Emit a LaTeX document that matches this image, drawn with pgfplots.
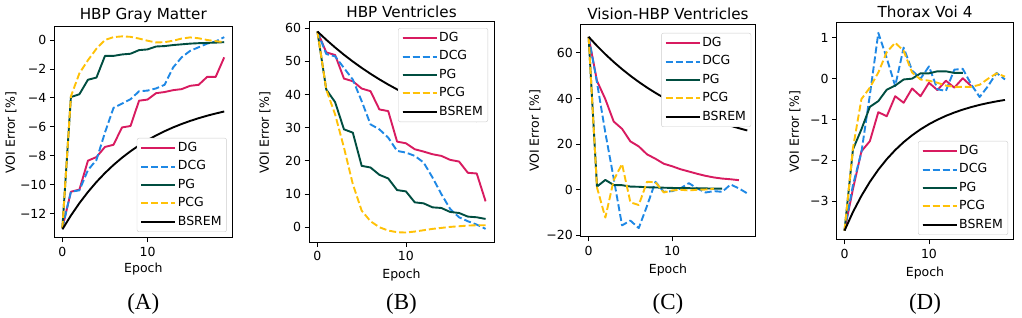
\documentclass[border=0pt]{standalone}
\usepackage{fontspec}
\setmainfont{DejaVu Sans}
\newfontfamily\serifletter{Liberation Serif}
\usepackage{pgfplots}
\pgfplotsset{compat=1.18}
\definecolor{cDG}{HTML}{D81B60}
\definecolor{cDCG}{HTML}{1E88E5}
\definecolor{cPG}{HTML}{004D40}
\definecolor{cPCG}{HTML}{FFC107}
\newcommand{\tickfont}{\fontsize{12.5bp}{14bp}\selectfont}
\newcommand{\titlefont}{\fontsize{15.2bp}{17bp}\selectfont}
\pgfplotsset{
  myax/.style={
    scale only axis,
    xmin=-0.95, xmax=19.95,
    xtick={0,10}, xticklabels={0,10},
    tick align=outside, xtick pos=bottom, ytick pos=left,
    major tick length=4.4bp,
    every tick/.style={black, line width=0.8bp},
    axis line style={line width=1bp},
    tick label style={font=\tickfont},
    xticklabel style={yshift=-1bp},
    legend cell align=left,
    legend style={font=\tickfont, draw=black!20, rounded corners=2bp, fill=white,
      inner xsep=3.5bp, inner ysep=2.5bp, row sep=3.4bp,
      nodes={inner sep=1.5bp, text height=9.3bp, text depth=2.7bp}},
    legend image code/.code={\draw[##1] (0bp,0bp) -- (27bp,0bp); \path (0bp,0bp) -- (34bp,0bp);},
    every axis plot/.append style={line width=1.9bp, mark=none, line join=round},
  },
  sDG/.style={color=cDG, solid},
  sDCG/.style={color=cDCG, dash pattern=on 7bp off 3bp},
  sPG/.style={color=cPG, solid},
  sPCG/.style={color=cPCG, dash pattern=on 7bp off 3bp},
  sBS/.style={color=black, solid},
}
\begin{document}
\begin{tikzpicture}
\path[use as bounding box] (0,0) rectangle (1022bp,318bp);
% ---------------- A
\begin{axis}[myax, at={(54.3bp,80bp)}, width=178bp, height=211bp,
  ymin=-13.7, ymax=0.9,
  ytick={-12,-10,-8,-6,-4,-2,0}, yticklabels={−12,−10,−8,−6,−4,−2,0},
  legend style={at={(rel axis cs:1,0)}, anchor=south east, xshift=-5.5bp, yshift=6bp}]
\addplot[sDG] coordinates {(0,-13.0)(1,-10.5)(2,-10.35)(3,-8.35)(4,-8.1)(5,-7.4)(6,-7.25)(7,-6.05)(8,-5.95)(9,-4.2)(10,-4.12)(11,-3.68)(12,-3.6)(13,-3.47)(14,-3.4)(15,-3.17)(16,-3.1)(17,-2.55)(18,-2.55)(19,-1.2)};
\addplot[sDCG] coordinates {(0,-13.0)(1,-10.5)(2,-10.4)(3,-9.0)(4,-8.3)(5,-6.4)(6,-4.7)(7,-4.4)(8,-4.1)(9,-3.55)(10,-3.5)(11,-3.35)(12,-3.1)(13,-1.9)(14,-1.2)(15,-0.75)(16,-0.5)(17,-0.25)(18,-0.1)(19,0.2)};
\addplot[sPG] coordinates {(0,-13.0)(1,-3.95)(2,-3.75)(3,-2.75)(4,-2.6)(5,-1.1)(6,-1.1)(7,-1.0)(8,-0.95)(9,-0.7)(10,-0.65)(11,-0.45)(12,-0.42)(13,-0.35)(14,-0.3)(15,-0.25)(16,-0.22)(17,-0.2)(18,-0.18)(19,-0.15)};
\addplot[sPCG] coordinates {(0,-13.0)(1,-3.9)(2,-2.3)(3,-1.4)(4,-0.6)(5,0.0)(6,0.2)(7,0.25)(8,0.22)(9,0.1)(10,-0.05)(11,-0.17)(12,-0.15)(13,-0.05)(14,0.1)(15,0.18)(16,0.12)(17,0.0)(18,-0.08)(19,-0.15)};
\addplot[sBS] coordinates {(0,-13.1)(1,-12.145)(2,-11.287)(3,-10.517)(4,-9.825)(5,-9.205)(6,-8.647)(7,-8.146)(8,-7.696)(9,-7.292)(10,-6.929)(11,-6.603)(12,-6.311)(13,-6.047)(14,-5.812)(15,-5.6)(16,-5.41)(17,-5.238)(18,-5.085)(19,-4.947)};
\legend{DG,DCG,PG,PCG,BSREM}
\end{axis}
% ---------------- B
\begin{axis}[myax, at={(309bp,75.5bp)}, width=185bp, height=221bp,
  ymin=-4.6, ymax=62,
  ytick={0,10,20,30,40,50,60}, yticklabels={0,10,20,30,40,50,60},
  legend style={at={(rel axis cs:1,1)}, anchor=north east, xshift=-6bp, yshift=-6.5bp}]
\addplot[sDG] coordinates {(0,59)(1,52.7)(2,51.9)(3,44.8)(4,44)(5,41.8)(6,41)(7,35.5)(8,35)(9,25.8)(10,25.3)(11,23.5)(12,22.8)(13,22)(14,21.5)(15,20.3)(16,19.8)(17,16.4)(18,16.2)(19,7.8)};
\addplot[sDCG] coordinates {(0,59)(1,52.2)(2,51.5)(3,48)(4,44.5)(5,38)(6,31)(7,29.5)(8,27)(9,23)(10,22.5)(11,21.5)(12,19.5)(13,15)(14,10)(15,5.5)(16,3)(17,1.8)(18,0.8)(19,-0.5)};
\addplot[sPG] coordinates {(0,59)(1,41.5)(2,37.7)(3,29.5)(4,28.5)(5,18.5)(6,18)(7,15.8)(8,14.7)(9,11.2)(10,10.8)(11,7.5)(12,7.2)(13,6)(14,5.8)(15,4.6)(16,4.3)(17,3.2)(18,3)(19,2.5)};
\addplot[sPCG] coordinates {(0,59)(1,41.5)(2,34)(3,24)(4,13)(5,5)(6,1.8)(7,0)(8,-1)(9,-1.5)(10,-1.6)(11,-1.3)(12,-0.9)(13,-0.5)(14,-0.2)(15,0.1)(16,0.3)(17,0.5)(18,0.6)(19,0.6)};
\addplot[sBS] coordinates {(0,59)(1,56.5)(2,54.17)(3,51.98)(4,49.94)(5,48.03)(6,46.24)(7,44.57)(8,43)(9,41.54)(10,40.17)(11,38.89)(12,37.69)(13,36.57)(14,35.52)(15,34.54)(16,33.62)(17,32.76)(18,31.96)};
\legend{DG,DCG,PG,PCG,BSREM}
\end{axis}
% ---------------- C
\begin{axis}[myax, at={(580.7bp,81bp)}, width=174.5bp, height=212bp,
  ymin=-20.7, ymax=72.2,
  ytick={-20,0,20,40,60}, yticklabels={−20,0,20,40,60},
  legend style={at={(rel axis cs:1,1)}, anchor=north east, xshift=-4bp, yshift=-8bp}]
\addplot[sDG] coordinates {(0,67)(1,47.7)(2,39.7)(3,29.9)(4,26.7)(5,21.2)(6,19)(7,15.5)(8,13.6)(9,11.4)(10,10.3)(11,9)(12,8)(13,7)(14,6.1)(15,5.4)(16,4.9)(17,4.6)(18,4.2)};
\addplot[sDCG] coordinates {(0,67)(1,47)(2,25)(3,5)(4,-15.6)(5,-13.5)(6,-16.8)(7,-7)(8,3.5)(9,-0.9)(10,-0.6)(11,0.6)(12,2.9)(13,0.6)(14,-1.2)(15,-0.6)(16,-0.9)(17,2.3)(18,0.6)(19,-1.6)};
\addplot[sPG] coordinates {(0,67)(1,1.4)(2,4.3)(3,2.1)(4,2.0)(5,1.4)(6,1.3)(7,1.1)(8,1.0)(9,0.9)(10,0.8)(11,0.7)(12,0.7)(13,0.6)(14,0.6)(15,0.5)(16,0.5)};
\addplot[sPCG] coordinates {(0,67)(1,1)(2,-12.2)(3,4.2)(4,11.3)(5,-5.5)(6,-6.7)(7,3.5)(8,3.3)(9,-1.2)(10,-0.3)(11,0)(12,-0.3)(13,0)(14,0.1)(15,0.5)};
\addplot[sBS] coordinates {(0,67)(1,63.05)(2,59.39)(3,56)(4,52.86)(5,49.95)(6,47.26)(7,44.76)(8,42.46)(9,40.32)(10,38.35)(11,36.51)(12,34.82)(13,33.25)(14,31.79)(15,30.44)(16,29.19)(17,28.04)(18,26.97)(19,25.98)};
\legend{DG,DCG,PG,PCG,BSREM}
\end{axis}
% ---------------- D
\begin{axis}[myax, at={(836.5bp,78bp)}, width=176.5bp, height=217.3bp,
  ymin=-3.95, ymax=1.37,
  ytick={-3,-2,-1,0,1}, yticklabels={−3,−2,−1,0,1},
  legend style={at={(rel axis cs:1,0)}, anchor=south east, xshift=-5bp, yshift=5bp}]
\addplot[sDG] coordinates {(0,-3.72)(1,-2.7)(2,-1.78)(3,-1.53)(4,-0.82)(5,-0.92)(6,-0.43)(7,-0.59)(8,-0.24)(9,-0.43)(10,-0.1)(11,-0.28)(12,-0.05)(13,-0.22)(14,0.01)(15,-0.18)};
\addplot[sDCG] coordinates {(0,-3.72)(1,-2.6)(2,-1.8)(3,-0.4)(4,1.12)(5,0.5)(6,-0.18)(7,0.76)(8,0.2)(9,0.0)(10,0.3)(11,-0.26)(12,-0.3)(13,0.22)(14,0.24)(15,-0.14)(16,-0.45)(17,-0.18)(18,0.14)(19,-0.02)};
\addplot[sPG] coordinates {(0,-3.72)(1,-1.73)(2,-1.24)(3,-0.69)(4,-0.55)(5,-0.27)(6,-0.17)(7,-0.02)(8,0.0)(9,0.13)(10,0.13)(11,0.18)(12,0.18)(13,0.14)(14,0.14)};
\addplot[sPCG] coordinates {(0,-3.72)(1,-1.7)(2,-0.5)(3,-0.22)(4,0.15)(5,0.65)(6,0.88)(7,0.68)(8,0.15)(9,-0.02)(10,-0.05)(11,-0.1)(12,-0.17)(13,-0.2)(14,-0.2)(15,-0.2)(16,-0.15)(17,0.0)(18,0.13)(19,0.05)};
\addplot[sBS] coordinates {(0,-3.72)(1,-3.264)(2,-2.869)(3,-2.526)(4,-2.229)(5,-1.971)(6,-1.748)(7,-1.554)(8,-1.387)(9,-1.241)(10,-1.115)(11,-1.006)(12,-0.911)(13,-0.829)(14,-0.758)(15,-0.696)(16,-0.642)(17,-0.596)(18,-0.556)(19,-0.521)};
\legend{DG,DCG,PG,PCG,BSREM}
\end{axis}
% ---------------- texts
\begin{scope}[every node/.style={inner sep=0pt}]
\node[font=\titlefont] at (143.3bp,303bp) {HBP Gray Matter};
\node[font=\titlefont] at (401.5bp,306.3bp) {HBP Ventricles};
\node[font=\titlefont] at (668bp,304bp) {Vision-HBP Ventricles};
\node[font=\titlefont] at (925bp,306.3bp) {Thorax Voi 4};
\node[font=\tickfont] at (143.3bp,49bp) {Epoch};
\node[font=\tickfont] at (401.5bp,43bp) {Epoch};
\node[font=\tickfont] at (668bp,48bp) {Epoch};
\node[font=\tickfont] at (925bp,45bp) {Epoch};
\node[font=\tickfont, rotate=90] at (11bp,185.5bp) {VOI Error [\%]};
\node[font=\tickfont, rotate=90] at (265bp,185.5bp) {VOI Error [\%]};
\node[font=\tickfont, rotate=90] at (535bp,187bp) {VOI Error [\%]};
\node[font=\tickfont, rotate=90] at (795bp,186.5bp) {VOI Error [\%]};
\node[font=\serifletter\fontsize{23bp}{25bp}\selectfont] at (143.3bp,14bp) {(A)};
\node[font=\serifletter\fontsize{23bp}{25bp}\selectfont] at (401.5bp,14bp) {(B)};
\node[font=\serifletter\fontsize{23bp}{25bp}\selectfont] at (668bp,14bp) {(C)};
\node[font=\serifletter\fontsize{23bp}{25bp}\selectfont] at (925bp,14bp) {(D)};
\end{scope}
\end{tikzpicture}
\end{document}
